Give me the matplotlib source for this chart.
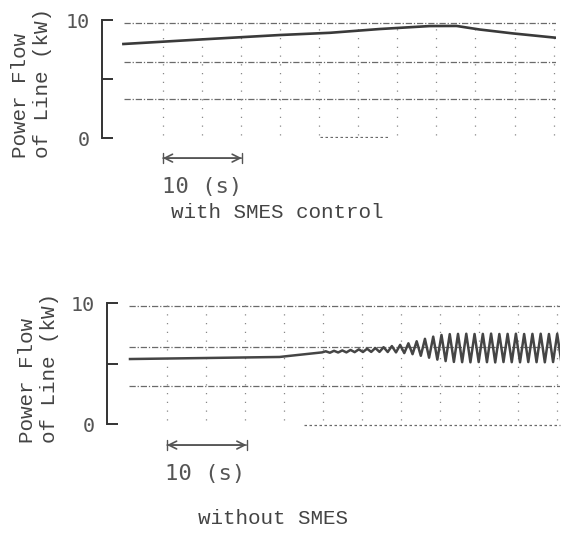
import numpy as np
import matplotlib
matplotlib.use("Agg")
import matplotlib.pyplot as plt

# ---- data (time in s, power in kW) ----
# with SMES control
t_smes = [2.7, 12.4, 22.5, 28.9, 35.2, 41.5, 44.9, 47.8, 52.0, 57.5]
p_smes = [7.97, 8.35, 8.73, 8.92, 9.24, 9.49, 9.50, 9.20, 8.87, 8.50]

# without SMES: smooth part before the swing
t_flat = [2.9, 12.0, 21.9, 23.0, 27.3]
p_flat = [5.37, 5.45, 5.54, 5.62, 5.92]

# without SMES: growing power swing, one entry per cycle (start time, crest, trough)
cyc_t = [27.5, 28.55, 29.6, 30.65, 31.7, 32.75, 33.8, 34.85, 35.9, 36.95,
         38.0, 39.05, 40.1, 41.15, 42.2, 43.25, 44.3, 45.35, 46.4, 47.45,
         48.5, 49.55, 50.6, 51.65, 52.7, 53.75, 54.8, 55.85, 56.9]
cyc_hi = [6.01, 6.05, 6.08, 6.12, 6.17, 6.22, 6.28, 6.35, 6.44, 6.54,
          6.67, 6.84, 7.04, 7.22, 7.36, 7.43, 7.45, 7.46, 7.44, 7.45,
          7.47, 7.44, 7.45, 7.46, 7.44, 7.45, 7.46, 7.44, 7.45]
cyc_lo = [5.89, 5.91, 5.92, 5.94, 5.95, 5.96, 5.96, 5.95, 5.92, 5.86,
          5.77, 5.64, 5.48, 5.32, 5.20, 5.13, 5.11, 5.10, 5.12, 5.11,
          5.09, 5.12, 5.11, 5.10, 5.12, 5.11, 5.10, 5.12, 5.11]
swing_period = 1.05

# chart-recorder grid lines
grid_top = [9.75, 6.47, 3.28]
grid_bot = [9.75, 6.40, 3.17]

mono = "Liberation Mono"
smono = "DejaVu Sans Mono"
ink = "#3a3a3a"
gcol = "#6a6a6a"

fig = plt.figure(figsize=(5.61, 5.33), dpi=100)
ax1 = fig.add_axes([0.182, 0.741, 0.809, 0.2214])
ax2 = fig.add_axes([0.191, 0.2045, 0.807, 0.227])


def style(ax, hgrid, vstart):
    ax.set_xlim(0, 57.5)
    ax.set_ylim(0, 10)
    for s in ["top", "right", "bottom"]:
        ax.spines[s].set_visible(False)
    ax.spines["left"].set_color("#333333")
    ax.spines["left"].set_linewidth(1.4)
    ax.set_xticks([])
    ax.set_yticks([0, 5, 10])
    ax.set_yticklabels(["0", "", "10"])
    ax.tick_params(axis="y", direction="in", length=8, width=1.4, color="#333333",
                   pad=9, labelsize=14.5, labelcolor="#555555")
    for lab in ax.get_yticklabels():
        lab.set_family(smono)
    for g in hgrid:
        ax.axhline(g, xmin=2.8 / 57.5, color=gcol, lw=0.9, ls=(0, (5, 1.5, 1, 1.5)), zorder=1)
    for k in range(11):
        ax.axvline(vstart + 4.95 * k, ymin=0.03, ymax=0.98, color="#888888", lw=0.9,
                   ls=(0, (1, 6)), zorder=1)


style(ax1, grid_top, 7.7)
style(ax2, grid_bot, 7.6)

# partial baseline dots of the recorder paper
ax1.plot([27.6, 36.5], [0.08, 0.08], color=gcol, lw=0.9, ls=(0, (2, 2)))
ax2.plot([25.0, 57.5], [-0.08, -0.08], color=gcol, lw=0.9, ls=(0, (2, 2)), clip_on=False)

# traces
ax1.plot(t_smes, p_smes, color=ink, lw=1.9, zorder=3)

sw_t, sw_p = [], []
for t0, hi, lo in zip(cyc_t, cyc_hi, cyc_lo):
    sw_t += [t0 + 0.25 * swing_period, t0 + 0.75 * swing_period]
    sw_p += [hi, lo]
ax2.plot(t_flat + sw_t, p_flat + sw_p, color="#454545", lw=1.8, zorder=3,
         solid_joinstyle="round")

# 10 s scale arrows
for ax, (a0, a1), ty in [(ax1, (7.7, 17.7), -1.7), (ax2, (7.6, 17.7), -1.74)]:
    ax.annotate("", xy=(a0, ty), xytext=(a1, ty), annotation_clip=False,
                arrowprops=dict(arrowstyle="<->", color="#555555", lw=1.2,
                                shrinkA=0, shrinkB=0, mutation_scale=14))
    ax.annotate("", xy=(a0, ty), xytext=(a1, ty), annotation_clip=False,
                arrowprops=dict(arrowstyle="|-|,widthA=0.35,widthB=0.35", color="#555555",
                                lw=1.0, shrinkA=0, shrinkB=0))
ax1.text(12.7, -4.15, "10 (s)", family=smono, fontsize=16, color="#555555",
         ha="center", va="center", clip_on=False)
ax2.text(12.4, -4.13, "10 (s)", family=smono, fontsize=16, color="#555555",
         ha="center", va="center", clip_on=False)

# axis titles and captions
fig.text(0.056, 0.845, "Power Flow\nof Line (kW)", rotation=90, family=mono, fontsize=15,
         color="#444444", ha="center", va="center", multialignment="left", linespacing=1.25)
fig.text(0.0686, 0.3105, "Power Flow\nof Line (kW)", rotation=90, family=mono, fontsize=15,
         color="#444444", ha="center", va="center", multialignment="left", linespacing=1.25)
fig.text(0.4947, 0.6004, "with SMES control", family=mono, fontsize=15, color="#444444",
         ha="center", va="center")
fig.text(0.4866, 0.028, "without SMES", family=mono, fontsize=15, color="#444444",
         ha="center", va="center")

plt.savefig("out.png", dpi=100)
